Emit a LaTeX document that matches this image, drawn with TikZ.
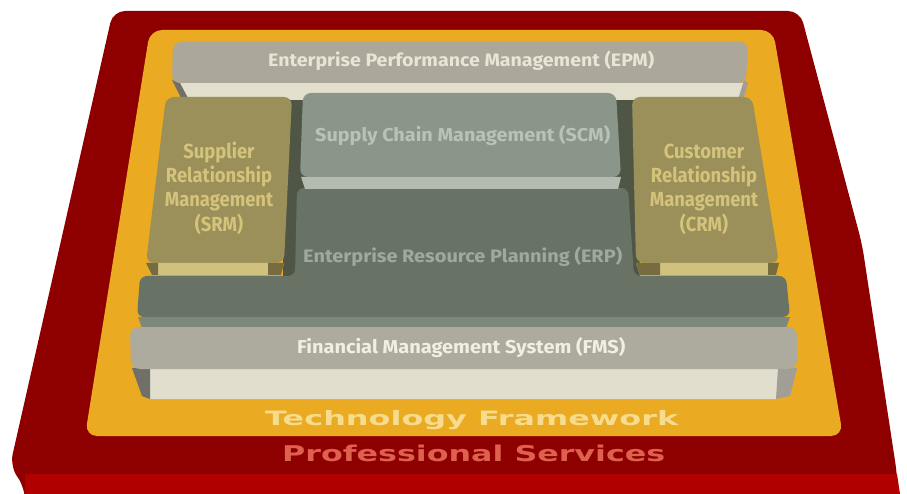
\documentclass[tikz,border=0pt]{standalone}
\usepackage{fontspec}
\usepackage{graphicx}
\setmainfont{Fira Sans}
\newfontfamily\widefont{DejaVu Sans}
\definecolor{redDark}{RGB}{142,0,0}
\definecolor{redBright}{RGB}{176,0,0}
\definecolor{yel}{RGB}{234,170,34}
\definecolor{tfText}{RGB}{246,220,140}
\definecolor{psText}{RGB}{222,96,78}
\definecolor{epmTop}{RGB}{171,167,154}
\definecolor{epmText}{RGB}{232,229,214}
\definecolor{cream}{RGB}{226,223,205}
\definecolor{shadeL}{RGB}{112,111,104}
\definecolor{shadeR}{RGB}{160,158,150}
\definecolor{gap}{RGB}{80,86,70}
\definecolor{scmTop}{RGB}{139,150,139}
\definecolor{scmText}{RGB}{185,194,183}
\definecolor{scmFront}{RGB}{180,188,177}
\definecolor{erpTop}{RGB}{104,115,102}
\definecolor{erpText}{RGB}{160,170,156}
\definecolor{erpFront}{RGB}{124,136,123}
\definecolor{olive}{RGB}{155,143,90}
\definecolor{oliveText}{RGB}{212,195,122}
\definecolor{oliveFront}{RGB}{208,194,126}
\definecolor{oliveDark}{RGB}{118,108,64}
\definecolor{fmsTop}{RGB}{173,170,158}
\definecolor{fmsText}{RGB}{241,238,226}
\definecolor{fmsFront}{RGB}{225,222,205}
\begin{document}
\begin{tikzpicture}[x=1pt,y=-1pt,
  lbl/.style={inner sep=0pt, anchor=base west},
  sidelbl/.style={inner sep=0pt, anchor=center, text=oliveText,
    font=\fontsize{20}{23.5}\selectfont\bfseries}]
\useasboundingbox (0,0) rectangle (907,494);
% Professional Services base
\fill[redDark, rounded corners=12] (113,11) -- (800,11) -- (862,244) -- (897,474) -- (899,520) -- (25,520) -- (25,488) -- (10,466) -- cycle;
\fill[redBright] (25,474) -- (897,474) -- (900,494) -- (25,494) -- cycle;
% Technology Framework
\fill[yel, rounded corners=12] (150,30) -- (773,30) -- (843,436) -- (85,436) -- cycle;
\node[lbl, text=tfText] (tf) at (265,425) {\resizebox{413pt}{15pt}{\widefont\bfseries Technology Framework}};
\node[lbl, text=psText] (ps) at (282,461) {\resizebox{383pt}{16.5pt}{\widefont\bfseries Professional Services}};
% EPM
\fill[cream] (176,83) -- (745,83) -- (740,100) -- (184,100) -- cycle;
\fill[shadeL] (172,80) -- (180,83) -- (189,100) -- (182,100) -- cycle;
\fill[shadeR] (744,80) -- (748,83) -- (743,100) -- (738,100) -- cycle;
\fill[epmTop, rounded corners=8] (173,42) -- (748,42) -- (746,83) -- (172,83) -- cycle;
\node[lbl, text=epmText] (epm) at (268,67) {\resizebox{386pt}{15.5pt}{\bfseries Enterprise Performance Management (EPM)}};
% dark gaps behind the middle blocks
\fill[gap] (283,100) -- (640,100) -- (640,278) -- (283,278) -- cycle;
% ERP
\fill[erpTop, rounded corners=7] (297,188) -- (628,188) -- (634,276) -- (786,276) -- (790,317) -- (137,317) -- (140,276) -- (295,276) -- cycle;
\fill[erpFront] (138,317) -- (790,317) -- (786,328) -- (142,328) -- cycle;
\node[lbl, text=erpText] (erp) at (303,262) {\resizebox{319pt}{15.5pt}{\bfseries Enterprise Resource Planning (ERP)}};
% SCM
\fill[scmFront] (301,177) -- (621,177) -- (618,189) -- (305,189) -- cycle;
\fill[scmTop, rounded corners=8] (303,93) -- (616,93) -- (621,177) -- (300,177) -- cycle;
\node[lbl, text=scmText] (scm) at (315,142) {\resizebox{295pt}{16pt}{\bfseries Supply Chain Management (SCM)}};
% SRM
\fill[olive, rounded corners=8] (166,97) -- (292,97) -- (284,263) -- (146,263) -- cycle;
\fill[oliveFront] (146,263) -- (284,263) -- (281,275) -- (152,275) -- cycle;
\fill[oliveDark] (146,263) -- (158,263) -- (158,275) -- (152,275) -- cycle;
\fill[oliveDark] (268,263) -- (284,263) -- (281,275) -- (268,275) -- cycle;
\node[sidelbl] (srm) at (219,190.5) {\scalebox{0.92}[1.02]{\begin{tabular}{@{}c@{}}Supplier\\Relationship\\Management\\(SRM)\end{tabular}}};
% CRM
\fill[olive, rounded corners=8] (632,97) -- (752,97) -- (779,263) -- (636,263) -- cycle;
\fill[oliveFront] (636,263) -- (779,263) -- (776,275) -- (640,275) -- cycle;
\fill[oliveDark] (636,263) -- (660,263) -- (660,275) -- (640,275) -- cycle;
\fill[oliveDark] (768,263) -- (779,263) -- (776,275) -- (768,275) -- cycle;
\node[sidelbl] (crm) at (704,190.5) {\scalebox{0.92}[1.02]{\begin{tabular}{@{}c@{}}Customer\\Relationship\\Management\\(CRM)\end{tabular}}};
% FMS
\fill[fmsFront] (140,368) -- (780,368) -- (776,399) -- (150,399) -- cycle;
\fill[shadeL] (132,368) -- (150,368) -- (150,399) -- (142,396) -- cycle;
\fill[shadeR] (778,368) -- (797,368) -- (790,396) -- (776,399) -- cycle;
\fill[fmsTop, rounded corners=9] (130,327) -- (797,327) -- (797,369) -- (131,369) -- cycle;
\node[lbl, text=fmsText] (fms) at (297,353) {\resizebox{328pt}{16pt}{\bfseries Financial Management System (FMS)}};
\end{tikzpicture}
\end{document}
